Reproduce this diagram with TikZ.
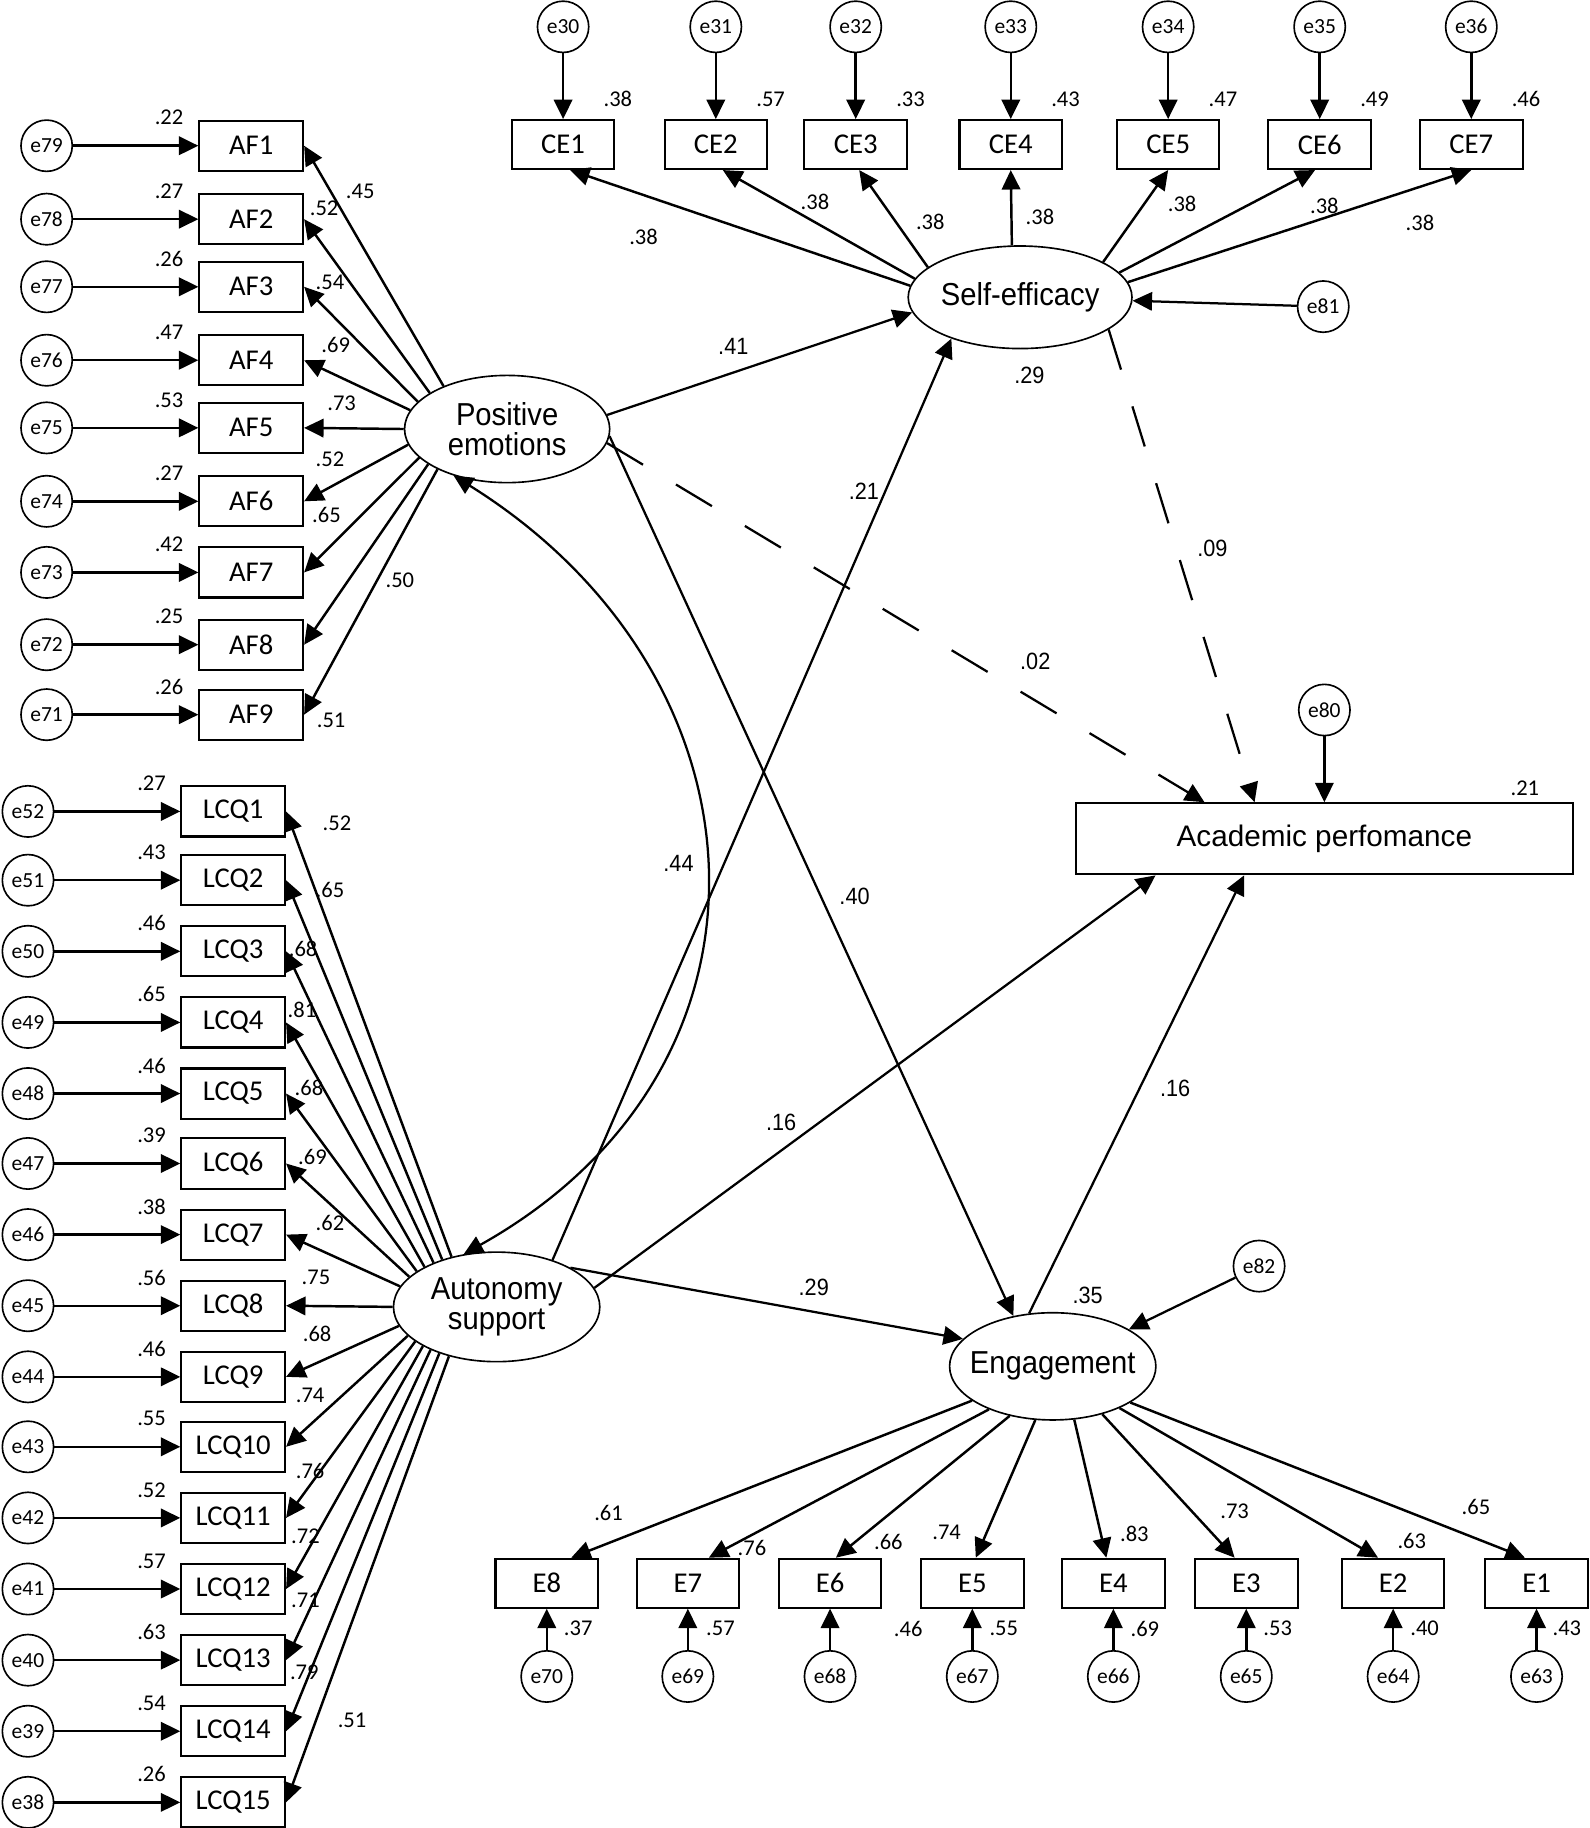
\documentclass[tikz,border=0pt]{standalone}
\usepackage{fontspec}
\setmainfont{Carlito}
\newfontfamily\condf[FakeStretch=0.92]{Liberation Sans}
\newfontfamily\arialf{Liberation Sans}
\usetikzlibrary{arrows.meta,shapes.geometric}
\newcommand{\zw}[1]{\makebox[0pt]{#1}}
\begin{document}
\begin{tikzpicture}[x=0.02cm,y=-0.02cm,
  >={Triangle[length=9.5pt,width=9pt]},
  box/.style={draw,line width=1pt,minimum width=1.78cm,minimum height=0.86cm,inner sep=0pt,font=\fontsize{14}{16}\selectfont},
  err/.style={draw,circle,line width=0.8pt,minimum size=0.88cm,inner sep=0pt,font=\fontsize{10.5}{12}\selectfont},
  lat/.style={draw,ellipse,line width=0.8pt,inner sep=0pt,align=center,font=\condf\fontsize{15.5}{14.8}\selectfont},
  num/.style={inner sep=0pt,font=\fontsize{11}{12}\selectfont},
  pnum/.style={inner sep=0pt,font=\condf\fontsize{11.5}{12}\selectfont},
  ind/.style={->,line width=1.2pt},
  spath/.style={->,line width=1.1pt},
  dpath/.style={spath,dash pattern=on 0.72cm off 0.66cm},
]
\useasboundingbox (0,0) rectangle (1363,1568);

% latent variables
\node[lat,minimum width=3.52cm,minimum height=1.84cm] (PE) at (435,368) {\zw{Positive}\\\zw{emotions}};
\node[lat,minimum width=3.84cm,minimum height=1.76cm] (SE) at (875,255) {\zw{Self-efficacy}};
\node[lat,minimum width=3.54cm,minimum height=1.88cm] (AS) at (426,1121) {\zw{Autonomy}\\\zw{support}};
\node[lat,minimum width=3.54cm,minimum height=1.84cm] (Eng) at (903,1172) {\zw{Engagement}};
\node[draw,line width=1pt,minimum width=8.52cm,minimum height=1.22cm,inner sep=0pt,
      font=\arialf\fontsize{14.5}{16}\selectfont] (AP) at (1136,719.5) {Academic perfomance};

% error terms of structural part
\node[err] (e80) at (1136,609) {e80};
\node[err] (e81) at (1135,263) {e81};
\node[err] (e82) at (1080,1086) {e82};
\draw[ind] (e80) -- (AP);
\draw[spath] (e81) -- (SE);
\draw[spath] (e82) -- (Eng);

% Positive emotions indicators
\foreach \n/\y/\en/\rr/\ang/\lb/\lx/\ly in {1/125/79/.22/146/.45/309/164, 2/188/78/.27/155/.52/278/179,
  3/246/77/.26/163/.54/283/242, 4/309/76/.47/169/.69/288/296, 5/367/75/.53/180/.73/293/346,
  6/430/74/.27/189/.52/283/394, 7/491/73/.42/198/.65/280/442, 8/553/72/.25/204/.50/343/498,
  9/613/71/.26/210/.51/284/618}{
  \node[box] (AF\n) at (215.5,\y) {AF\n};
  \node[err] (e\en) at (40,\y) {e\en};
  \draw[ind] (e\en) -- (AF\n);
  \node[num] (rAF\n) at (145,\y-24) {\rr};
  \draw[ind] (PE.\ang) -- (AF\n.east);
  \node[num] (lAF\n) at (\lx,\ly) {\lb};
}

% Autonomy support indicators
\foreach \n/\y/\en/\rr/\ang/\lb/\lx/\ly in {1/696/52/.27/132/.52/289/706, 2/755/51/.43/139/.65/283/763,
  3/816/50/.46/145/.68/260/814, 4/877/49/.65/151/.81/259/866, 5/938/48/.46/156/.68/265/933,
  6/998/47/.39/161/.69/268/992, 7/1059/46/.38/168/.62/283/1049, 8/1120/45/.56/180/.75/271/1096,
  9/1181/44/.46/191/.68/272/1144, 10/1241/43/.55/198/.74/266/1197, 11/1302/42/.52/203/.76/266/1262,
  12/1363/41/.57/208/.72/262/1318, 13/1424/40/.63/213/.71/262/1373, 14/1485/39/.54/219/.79/261/1434,
  15/1546/38/.26/226/.51/302/1476}{
  \node[box] (LCQ\n) at (200,\y) {LCQ\n};
  \node[err] (e\en) at (24,\y) {e\en};
  \draw[ind] (e\en) -- (LCQ\n);
  \node[num] (rLCQ\n) at (130,\y-24) {\rr};
  \draw[ind] (AS.\ang) -- (LCQ\n.east);
  \node[num] (lLCQ\n) at (\lx,\ly) {\lb};
}

% Self-efficacy indicators
\foreach \n/\x/\en/\rr/\ang/\dx/\lx/\ly in {1/483/30/.38/174/6/552/203, 2/614/31/.57/170/6/699/173,
  3/734/32/.33/162/3/798/190, 4/867/33/.43/99/0/892/186, 5/1002/34/.47/23/0/1014/175,
  6/1132/35/.49/14/-4/1136/177, 7/1262/36/.46/8/0/1218/191}{
  \node[box,minimum width=1.76cm,minimum height=0.84cm] (CE\n) at (\x,124) {CE\n};
  \node[err] (e\en) at (\x,23) {e\en};
  \draw[ind] (e\en) -- (CE\n);
  \node[num] (rCE\n) at (\x+47,85) {\rr};
  \draw[ind] (SE.\ang) -- ([xshift=\dx*0.02cm]CE\n.south);
  \node[num] (lCE\n) at (\lx,\ly) {.38};
}

% Engagement indicators
\foreach \n/\x/\en/\rr/\rx/\ang/\dx/\lb/\lx/\ly in {8/469/70/.37/496/203/21/.61/522/1298,
  7/590/69/.57/618/214/18/.76/645/1328, 6/712/68/.46/779/229/5/.66/762/1323,
  5/834/67/.55/861/252/3/.74/812/1314, 4/955/66/.69/982/292/-6/.83/973/1316,
  3/1069/65/.53/1096/316/-10/.73/1059/1296, 2/1195/64/.40/1222/328/-13/.63/1211/1322,
  1/1318/63/.43/1344/335/-10/.65/1266/1293}{
  \node[box,minimum width=1.76cm,minimum height=0.84cm] (E\n) at (\x,1358) {E\n};
  \node[err] (e\en) at (\x,1438) {e\en};
  \draw[ind] (e\en) -- (E\n);
  \node[num] (rE\n) at (\rx,1397) {\rr};
  \draw[ind] (Eng.\ang) -- ([xshift=\dx*0.02cm]E\n.north);
  \node[num] (lE\n) at (\lx,\ly) {\lb};
}

% structural paths
\draw[spath] (PE.8) -- (SE.188);
\draw[spath] (AS.40) -- (SE.211);
\draw[spath] (PE.-4) -- (Eng.128);
\draw[dpath] (PE.-8) -- ([xshift=2.22cm]AP.north west);
\draw[dpath] (SE.-20) -- ([xshift=3.08cm]AP.north west);
\draw[spath] (AS.11) -- ([xshift=1.38cm]AP.south west);
\draw[spath] (Eng.114) -- ([xshift=2.9cm]AP.south west);
\draw[spath] (AS.28) -- (Eng.163);
\draw[spath,<->] (PE.221) .. controls (665,580) and (685,915) .. (AS.122);

% path labels
\node[pnum] (p41) at (629,297) {.41};
\node[pnum] (p21) at (741,421) {.21};
\node[pnum] (p09) at (1040,470) {.09};
\node[pnum] (p02) at (888,567) {.02};
\node[pnum] (p44) at (582,741) {.44};
\node[pnum] (p40) at (733,769) {.40};
\node[pnum] (p16a) at (670,963) {.16};
\node[pnum] (p16b) at (1008,934) {.16};
\node[pnum] (p29) at (698,1104) {.29};
\node[pnum] (rSE) at (883,322) {.29};
\node[pnum] (rEng) at (933,1111) {.35};
\node[num] (rAP) at (1308,676) {.21};
\end{tikzpicture}
\end{document}
